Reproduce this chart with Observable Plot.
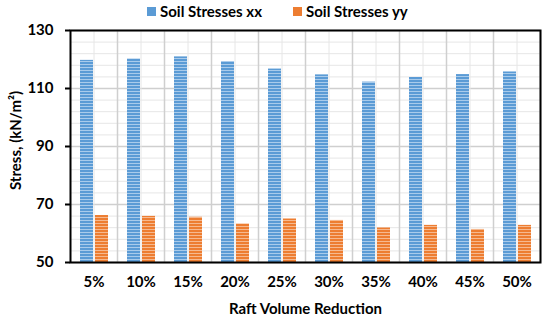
<!DOCTYPE html>
<html>
<head>
<meta charset="utf-8">
<script src="https://cdn.jsdelivr.net/npm/d3@7"></script>
<script src="https://cdn.jsdelivr.net/npm/@observablehq/plot@0.6"></script>
<style>
  html, body { margin: 0; padding: 0; background: #fff; }
  body { width: 550px; height: 323px; overflow: hidden; font-family: Lato, "Open Sans", sans-serif; }
  #legend { height: 14px; position: relative; font-weight: bold; font-size: 15px; color: #000; overflow: visible; }
  .item { position: absolute; top: 2px; display: flex; align-items: center; gap: 4px; line-height: 18px; }
  .sw { width: 9px; height: 9px; display: inline-block; }
</style>
</head>
<body>
<div id="legend"></div>
<div id="chart"></div>
<script>
const categories = ["5%", "10%", "15%", "20%", "25%", "30%", "35%", "40%", "45%", "50%"];
const seriesNames = ["Soil Stresses xx", "Soil Stresses yy"];
const stressXX = [119.7, 120.2, 120.9, 119.3, 116.7, 114.7, 112.2, 113.8, 114.8, 115.7];
const stressYY = [66.2, 65.9, 65.6, 63.3, 65.0, 64.5, 61.9, 62.8, 61.4, 62.8];
const yTicks = [50, 70, 90, 110, 130];
const yMinorTicks = d3.range(50, 131, 4);

const colors = {xx: "#5B9BD5", yy: "#ED7D31"};
const light = {xx: "#A9CBEB", yy: "#F6B98F"};

const dataXX = categories.map((c, i) => ({cat: c, v: stressXX[i]}));
const dataYY = categories.map((c, i) => ({cat: c, v: stressYY[i]}));

// legend
const legend = document.getElementById("legend");
[[seriesNames[0], "xx", 147], [seriesNames[1], "yy", 293]].forEach(([name, k, left]) => {
  const it = document.createElement("div");
  it.className = "item";
  it.style.left = left + "px";
  it.innerHTML = `<span class="sw" style="background:${colors[k]}"></span><span>${name}</span>`;
  legend.appendChild(it);
});

const W = 550, H = 309;
const mL = 70, mR = 10, mT = 16, mB = 61;
const step = (W - mL - mR) / categories.length;
const font = "Lato, 'Open Sans', sans-serif";

const plot = Plot.plot({
  width: W,
  height: H,
  marginLeft: mL,
  marginRight: mR,
  marginTop: mT,
  marginBottom: mB,
  style: {fontFamily: font, fontWeight: "bold", fontSize: "15px", color: "#000", background: "#fff", overflow: "visible"},
  x: {domain: categories, padding: 0, label: null},
  y: {domain: [50, 130], label: null},
  marks: [
    Plot.ruleY(yMinorTicks, {stroke: "#e6e6e6", strokeWidth: 1}),
    Plot.ruleY(yTicks, {stroke: "#cfcfcf", strokeWidth: 1.5}),
    Plot.ruleX(categories, {stroke: "#e6e6e6", strokeWidth: 1}),
    Plot.ruleX(categories, {stroke: "#cfcfcf", strokeWidth: 1.5, dx: step / 2}),
    Plot.barY(dataXX, {x: "cat", y1: 50, y2: "v", fill: "url(#stripeXX)", insetLeft: 10, insetRight: 24}),
    Plot.barY(dataYY, {x: "cat", y1: 50, y2: "v", fill: "url(#stripeYY)", insetLeft: 25, insetRight: 9}),
    Plot.axisY({ticks: yTicks, tickSize: 5, tickPadding: 12, stroke: "#000", strokeWidth: 2, label: null, fontSize: 15}),
    Plot.axisX({tickSize: 0, tickPadding: 14, label: null, fontSize: 15}),
    Plot.frame({stroke: "#000", strokeWidth: 2}),
    Plot.text(["Raft Volume Reduction"], {frameAnchor: "bottom", dy: 51, fontSize: 15, fontWeight: "bold", fill: "#000"}),
    Plot.text(["Stress, (kN/m²)"], {frameAnchor: "left", textAnchor: "middle", dx: -54, dy: -6, rotate: -90, fontSize: 15, fontWeight: "bold", fill: "#000"})
  ]
});

const ns = "http://www.w3.org/2000/svg";
const defs = document.createElementNS(ns, "defs");
[["stripeXX", "xx"], ["stripeYY", "yy"]].forEach(([id, k]) => {
  const p = document.createElementNS(ns, "pattern");
  p.setAttribute("id", id);
  p.setAttribute("patternUnits", "userSpaceOnUse");
  p.setAttribute("width", "4");
  p.setAttribute("height", "3");
  const r1 = document.createElementNS(ns, "rect");
  r1.setAttribute("width", "4"); r1.setAttribute("height", "3"); r1.setAttribute("fill", colors[k]);
  const r2 = document.createElementNS(ns, "rect");
  r2.setAttribute("width", "4"); r2.setAttribute("height", "1"); r2.setAttribute("y", "2"); r2.setAttribute("fill", light[k]);
  p.appendChild(r1); p.appendChild(r2);
  defs.appendChild(p);
});
plot.insertBefore(defs, plot.firstChild);
document.getElementById("chart").appendChild(plot);
</script>
</body>
</html>
